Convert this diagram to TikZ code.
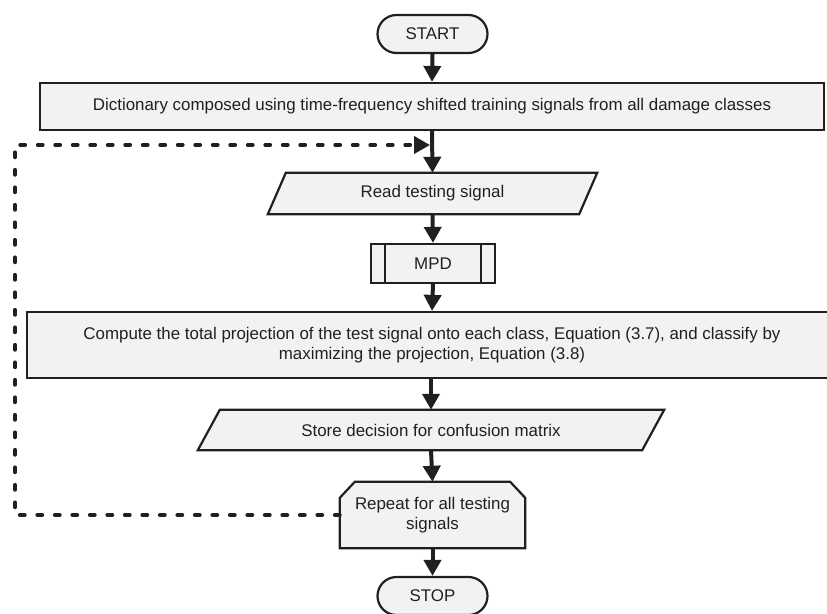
\documentclass[tikz,border=0pt]{standalone}
\usepackage{fontspec}
\setmainfont{Liberation Sans}
\usetikzlibrary{calc,arrows.meta}
\definecolor{linec}{HTML}{231F20}
\definecolor{fillc}{HTML}{F2F2F2}
\pgfdeclarelayer{bg}
\pgfsetlayers{bg,main}
\begin{document}
\begin{tikzpicture}[x=1pt,y=-1pt,
  lbl/.style={inner sep=0pt, align=center, text=linec, font=\fontsize{16.9}{20}\selectfont},
  box/.style={lbl, draw=linec, fill=fillc, line width=2.2pt},
  term/.style={box, rounded corners=19pt, minimum width=110pt, minimum height=38pt},
  shapeline/.style={draw=linec, fill=fillc, line width=2.2pt, line join=miter},
  arr/.style={draw=linec, line width=4pt, -{Triangle[length=16pt,width=17pt]}},
  loopline/.style={draw=linec, line width=3.8pt, line cap=round, dash pattern=on 5pt off 12.5pt, -{Triangle[length=16pt,width=17pt,line cap=butt]}}
]
\useasboundingbox (0,0) rectangle (827,613);

\node[term] (start) at (432.5,34) {START};
\node[box, minimum width=784pt, minimum height=47pt] (dict) at (432,106.5)
  {Dictionary composed using time-frequency shifted training signals from all damage classes};
\node[lbl, minimum width=311pt, minimum height=41pt] (read) at (432.5,193.5) {Read testing signal};
\node[box, minimum width=124pt, minimum height=39pt] (mpd) at (433,263.5) {MPD};
\node[box, minimum width=810pt, minimum height=66pt] (comp) at (432,345)
  {Compute the total projection of the test signal onto each class, Equation (3.7), and classify by\\maximizing the projection, Equation (3.8)};
\node[lbl, minimum width=444pt, minimum height=40pt] (store) at (431,430) {Store decision for confusion matrix};
\node[lbl, minimum width=185pt, minimum height=66pt] (rep) at (432.5,515) {Repeat for all testing\\signals};
\node[term] (stop) at (432.5,596) {STOP};

\begin{pgfonlayer}{bg}
  \path[shapeline] ($(read.north west)+(9,0)$) -- ($(read.north east)+(9,0)$)
    -- ($(read.south east)+(-9,0)$) -- ($(read.south west)+(-9,0)$) -- cycle;
  \path[shapeline] ($(store.north west)+(11,0)$) -- ($(store.north east)+(11,0)$)
    -- ($(store.south east)+(-11,0)$) -- ($(store.south west)+(-11,0)$) -- cycle;
  \path[shapeline] ($(rep.north west)+(15,0)$) -- ($(rep.north east)+(-15,0)$)
    -- ($(rep.north east)+(0,16)$) -- (rep.south east) -- (rep.south west)
    -- ($(rep.north west)+(0,16)$) -- cycle;
\end{pgfonlayer}

\draw[draw=linec, line width=2.2pt] ($(mpd.north west)+(15,0)$) -- ($(mpd.south west)+(15,0)$);
\draw[draw=linec, line width=2.2pt] ($(mpd.north east)+(-15,0)$) -- ($(mpd.south east)+(-15,0)$);

\draw[arr] (start.south) -- (dict.north);
\draw[arr] (dict.south) -- (read.north);
\draw[arr] (read.south) -- (mpd.north);
\draw[arr] (mpd.south) -- (comp.north);
\draw[arr] (comp.south -| store.north) -- (store.north);
\draw[arr] (store.south) -- (rep.north);
\draw[arr] (rep.south) -- (stop.north);

\coordinate (lc) at (15,145);
\coordinate (jn) at (430,145);
\draw[loopline] (rep.west) -| (lc) -- (jn);
\end{tikzpicture}
\end{document}
